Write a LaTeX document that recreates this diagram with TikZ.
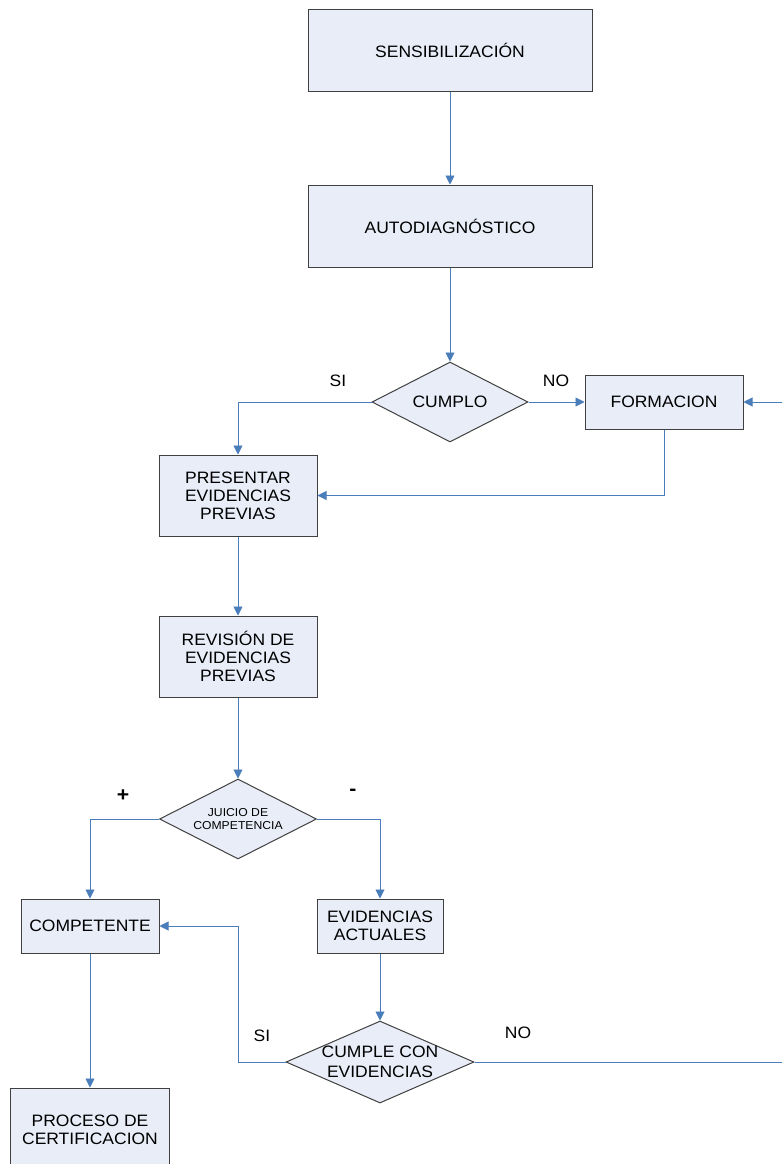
\documentclass[tikz,border=0pt]{standalone}
\usepackage{fontspec}
\setmainfont{Liberation Sans}[FakeStretch=1.06]
\usetikzlibrary{shapes.geometric,arrows.meta}
\definecolor{boxfill}{HTML}{E8EDF8}
\definecolor{boxline}{HTML}{404040}
\definecolor{conn}{HTML}{4A7EBB}
\begin{document}
\begin{tikzpicture}[x=1pt,y=-1pt,
  every node/.style={font=\fontsize{16.5}{18}\selectfont},
  procbox/.style={draw=boxline,line width=1pt,fill=boxfill,rectangle,align=center,inner sep=0pt},
  decbox/.style={draw=boxline,line width=1pt,fill=boxfill,diamond,inner sep=0pt},
  dectext/.style={align=center},
  conn/.style={draw=conn,line width=0.9pt},
  arr/.style={conn,-{Triangle[length=9pt,width=9pt]}},
  lbl/.style={font=\fontsize{16.5}{18}\selectfont}
]
\useasboundingbox (0,0) rectangle (782,1164);
\clip (0,0) rectangle (782,1164);
\fill[white] (0,0) rectangle (782,1164);

% process boxes
\node[procbox,minimum width=284pt,minimum height=81pt] (sens) at (450,50.5) {SENSIBILIZACIÓN};
\node[procbox,minimum width=284pt,minimum height=82pt] (auto) at (450,226) {AUTODIAGNÓSTICO};
\node[procbox,minimum width=158pt,minimum height=54pt] (form) at (664,402) {FORMACION};
\node[procbox,minimum width=158pt,minimum height=81pt] (pres) at (238,495.5) {PRESENTAR\\EVIDENCIAS\\PREVIAS};
\node[procbox,minimum width=158pt,minimum height=81pt] (rev) at (238,656.5) {REVISIÓN DE\\EVIDENCIAS\\PREVIAS};
\node[procbox,minimum width=138pt,minimum height=54pt] (comp) at (90,926) {COMPETENTE};
\node[procbox,minimum width=126pt,minimum height=54pt] (act) at (380,926) {EVIDENCIAS\\ACTUALES};
\node[procbox,minimum width=159pt,minimum height=84pt] (proc) at (90,1130) {PROCESO DE\\CERTIFICACION};

% decisions
\node[decbox,minimum width=156pt,minimum height=80pt] (cumplo) at (450,402) {};
\node[dectext] (cumplot) at (cumplo.center) {CUMPLO};
\node[decbox,minimum width=157pt,minimum height=80pt] (juicio) at (238,819) {};
\node[dectext,font=\fontsize{11.5}{13}\selectfont] (juiciot) at (juicio.center) {JUICIO DE\\COMPETENCIA};
\node[decbox,minimum width=188pt,minimum height=82pt] (cumple) at (380,1062) {};
\node[dectext,font=\fontsize{16.5}{20}\selectfont] (cumplet) at (cumple.center) {CUMPLE CON\\EVIDENCIAS};

% free ends at the right border
\coordinate (rin) at (782,402);
\coordinate (rout) at (782,1062);

% connectors
\draw[arr] (sens) -- (auto);
\draw[arr] (auto) -- (cumplo);
\draw[arr] (cumplo.west) -| (pres.north);
\draw[arr] (cumplo.east) -- (form.west);
\draw[arr] (form.south) |- (pres.east);
\draw[arr] (rin) -- (form.east);
\draw[arr] (pres) -- (rev);
\draw[arr] (rev) -- (juicio);
\draw[arr] (juicio.west) -| (comp.north);
\draw[arr] (juicio.east) -| (act.north);
\draw[arr] (act) -- (cumple);
\draw[arr] (cumple.west) -- (cumple.west -| juicio.south) |- (comp.east);
\draw[conn] (cumple.east) -- (rout);
\draw[arr] (comp) -- (proc);

% labels
\node[lbl] (lsi1) at (338,381) {SI};
\node[lbl] (lno1) at (556,381) {NO};
\node[font=\fontsize{20}{20}\selectfont\bfseries] (lplus) at (123,796) {+};
\node[font=\fontsize{20}{20}\selectfont\bfseries] (lminus) at (353,792) {-};
\node[lbl] (lsi2) at (262,1036) {SI};
\node[lbl] (lno2) at (518,1033) {NO};
\end{tikzpicture}
\end{document}
